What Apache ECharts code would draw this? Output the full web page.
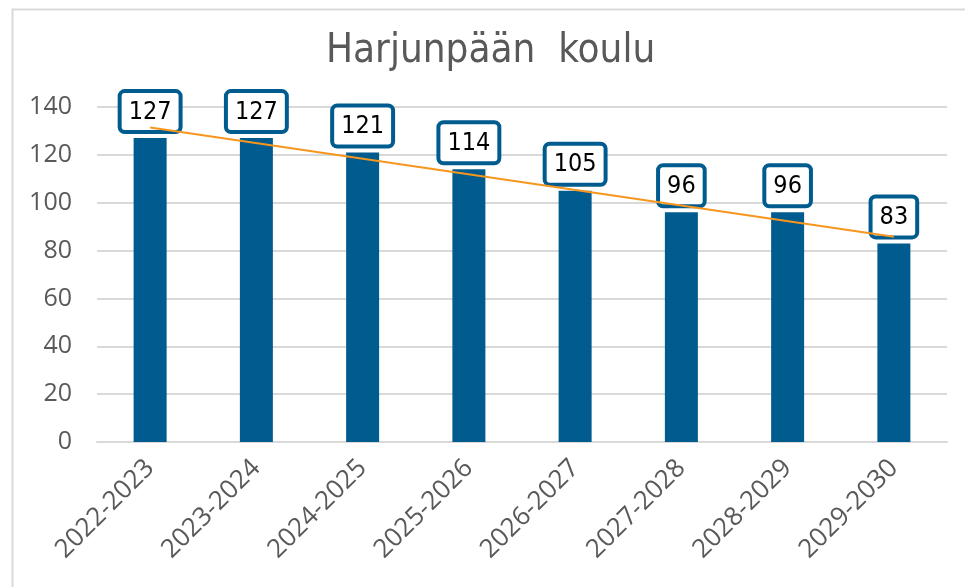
<!DOCTYPE html>
<html>
<head>
<meta charset="utf-8">
<script src="https://cdn.jsdelivr.net/npm/echarts@6/dist/echarts.min.js"></script>
<style>
  html, body { margin: 0; padding: 0; background: #fff; }
  #chart { width: 965px; height: 587px; }
</style>
</head>
<body>
<div id="chart"></div>
<script>
const titleText = 'Harjunpään  koulu';
const years = ['2022-2023', '2023-2024', '2024-2025', '2025-2026', '2026-2027', '2027-2028', '2028-2029', '2029-2030'];
const pupils = [127, 127, 121, 114, 105, 96, 96, 83];
// linear trend line, read at its two ends
const trendEnds = [131.4, 85.8];

const blue = '#005b8f';
const orange = '#f7961e';
const grey = '#595959';
const gridGrey = '#d9d9d9';
const condensed = '"DejaVu Sans Condensed", "DejaVu Sans", sans-serif';
const sans = '"Open Sans", "Noto Sans", sans-serif';

const chart = echarts.init(document.getElementById('chart'), null, { renderer: 'canvas' });

chart.setOption({
    animation: false,
    backgroundColor: '#fff',
    title: {
        text: titleText,
        left: 326,
        top: 32,
        padding: 0,
        textStyle: { color: grey, fontFamily: condensed, fontWeight: 'normal', fontSize: 40 }
    },
    graphic: [{
        type: 'rect',
        left: 10,
        top: 7,
        shape: { width: 1100, height: 700 },
        style: { fill: 'none', stroke: gridGrey, lineWidth: 2 },
        silent: true
    }],
    grid: { left: 97, right: 18, top: 107, bottom: 145 },
    xAxis: {
        type: 'category',
        data: years,
        axisLine: { lineStyle: { color: gridGrey, width: 2 } },
        axisTick: { show: false },
        axisLabel: {
            rotate: 45,
            margin: 22,
            color: grey,
            fontFamily: sans,
            fontSize: 26,
            interval: 0
        }
    },
    yAxis: {
        type: 'value',
        min: 0,
        max: 140,
        interval: 20,
        axisLine: { show: false },
        axisTick: { show: false },
        axisLabel: { color: grey, fontFamily: sans, fontSize: 25, margin: 25 },
        splitLine: { lineStyle: { color: gridGrey, width: 2 } }
    },
    series: [
        {
            type: 'bar',
            data: pupils,
            barWidth: 33,
            itemStyle: { color: blue },
            label: {
                show: true,
                position: 'top',
                distance: 8,
                color: '#000',
                fontFamily: condensed,
                fontSize: 25,
                lineHeight: 26,
                backgroundColor: '#fff',
                borderColor: blue,
                borderWidth: 4,
                borderRadius: 3,
                padding: [6, 7, 5, 7]
            },
            z: 2
        },
        {
            type: 'line',
            data: [[0, trendEnds[0]], [years.length - 1, trendEnds[1]]],
            showSymbol: false,
            symbol: 'none',
            lineStyle: { color: orange, width: 2 },
            z: 3
        }
    ]
});
</script>
</body>
</html>
